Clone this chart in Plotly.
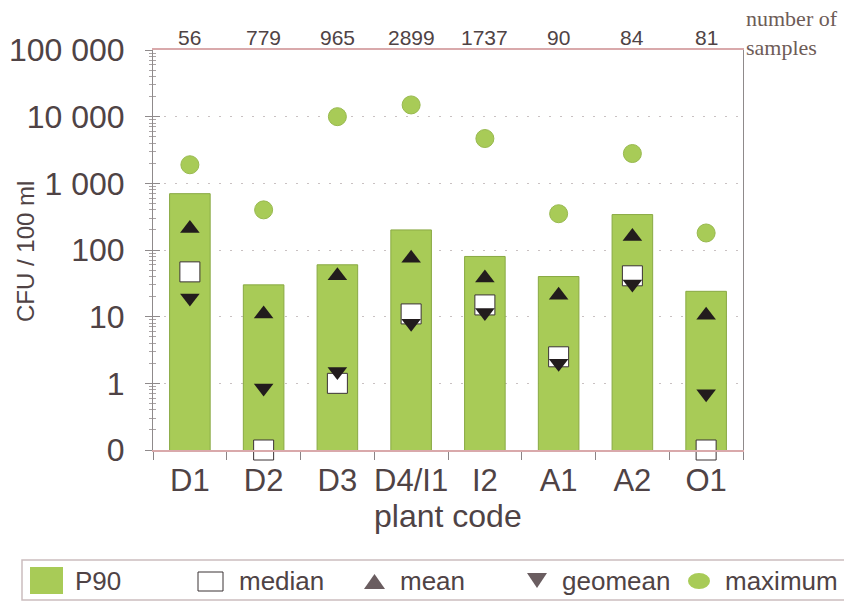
import plotly.graph_objects as go

# ---- data -------------------------------------------------------------
plants = ["D1", "D2", "D3", "D4/I1", "I2", "A1", "A2", "O1"]
n_samples = [56, 779, 965, 2899, 1737, 90, 84, 81]
p90 = [700, 30, 60, 200, 80, 40, 340, 24]
median = [47, 0, 1.0, 11, 15, 2.5, 41, 0]
mean = [210, 11, 41, 75, 38, 21, 160, 10.5]
geomean = [19, 0.85, 1.5, 8, 11.5, 2.0, 31, 0.7]
maximum = [1900, 400, 10000, 15000, 4700, 350, 2800, 180]

# zero counts sit on the axis floor of the log scale (labelled "0")
AXIS_FLOOR = 0.1
median_plot = [v if v > 0 else AXIS_FLOOR for v in median]

# ---- styling ----------------------------------------------------------
W, H = 844, 602
L, R, T, B = 153, 101, 50, 152
PW, PH = W - L - R, H - T - B
FONT = "Liberation Sans, Arial, Helvetica, sans-serif"
SERIF = "Liberation Serif, Times New Roman, serif"
TEXT = "#4f4345"
GREEN = "#a8cb57"
GREEN_EDGE = "#89a943"
DARK = "#221c1d"
GRID = "#c9c1c2"
PINK = "#d9a9ab"


def px_x(x):
    return (x - L) / PW


def px_y(y):
    return (T + PH - y) / PH


fig = go.Figure()

fig.add_trace(go.Bar(
    x=plants, y=p90, name="P90", width=0.55,
    marker=dict(color=GREEN, line=dict(color=GREEN_EDGE, width=1)),
    showlegend=False,
))
fig.add_trace(go.Scatter(
    x=plants, y=median_plot, name="median", mode="markers", cliponaxis=False,
    marker=dict(symbol="square", size=20, color="white",
                line=dict(color="#3a3234", width=1)),
    showlegend=False,
))
fig.add_trace(go.Scatter(
    x=plants, y=geomean, name="geomean", mode="markers", cliponaxis=False,
    marker=dict(symbol="triangle-down", size=17, color=DARK, line=dict(width=0)),
    showlegend=False,
))
fig.add_trace(go.Scatter(
    x=plants, y=mean, name="mean", mode="markers", cliponaxis=False,
    marker=dict(symbol="triangle-up", size=17, color=DARK, line=dict(width=0)),
    showlegend=False,
))
fig.add_trace(go.Scatter(
    x=plants, y=maximum, name="maximum", mode="markers", cliponaxis=False,
    marker=dict(symbol="circle", size=18, color=GREEN,
                line=dict(color="#98b94e", width=1)),
    showlegend=False,
))
# companion axis carrying the inward half of the y ticks
fig.add_trace(go.Scatter(x=[], y=[], yaxis="y2", showlegend=False,
                         hoverinfo="skip"))

# sample counts above each plant
for p, n in zip(plants, n_samples):
    fig.add_annotation(x=p, xref="x", y=px_y(37), yref="paper",
                       text=str(n), showarrow=False,
                       font=dict(family=FONT, size=21, color=TEXT),
                       xanchor="center", yanchor="middle")

fig.add_annotation(x=px_x(744), xref="paper", y=px_y(33), yref="paper",
                   text="number of<br>samples", showarrow=False, align="left",
                   font=dict(family=SERIF, size=22, color="#6e5c57"),
                   xanchor="left", yanchor="middle")

# axis titles
fig.add_annotation(x=px_x(25), xref="paper", y=px_y(252), yref="paper",
                   text="CFU / 100 ml", textangle=-90, showarrow=False,
                   font=dict(family=FONT, size=24, color=TEXT),
                   xanchor="center", yanchor="middle")
fig.add_annotation(x=0.5, xref="paper", y=px_y(516), yref="paper",
                   text="plant code", showarrow=False,
                   font=dict(family=FONT, size=32, color=TEXT),
                   xanchor="center", yanchor="middle")

# ---- legend box -------------------------------------------------------
shapes = []
shapes.append(dict(type="rect", xref="paper", yref="paper",
                   x0=px_x(22), x1=px_x(852), y0=px_y(600), y1=px_y(560),
                   line=dict(color="#cbbdbf", width=1.5), fillcolor="white"))
shapes.append(dict(type="rect", xref="paper", yref="paper",
                   x0=px_x(30), x1=px_x(63), y0=px_y(594), y1=px_y(567),
                   line=dict(width=0), fillcolor=GREEN))
shapes.append(dict(type="rect", xref="paper", yref="paper",
                   x0=px_x(198), x1=px_x(223), y0=px_y(591), y1=px_y(572),
                   line=dict(color="#3a3234", width=1), fillcolor="white"))


def tri(x0, x1, ytop, ybot, up=True):
    xm = (x0 + x1) / 2
    if up:
        pts = [(x0, ybot), (x1, ybot), (xm, ytop)]
    else:
        pts = [(x0, ytop), (x1, ytop), (xm, ybot)]
    d = "M " + " L ".join(f"{px_x(a):.5f},{px_y(b):.5f}" for a, b in pts) + " Z"
    return dict(type="path", xref="paper", yref="paper", path=d,
                fillcolor="#6a5d60", line=dict(width=0))


shapes.append(tri(364, 385, 574, 589, up=True))
shapes.append(tri(527, 547, 573, 588, up=False))
shapes.append(dict(type="circle", xref="paper", yref="paper",
                   x0=px_x(688), x1=px_x(710), y0=px_y(589), y1=px_y(573),
                   line=dict(width=0), fillcolor=GREEN))

legend_items = [("P90", 73), ("median", 237), ("mean", 398),
                ("geomean", 560), ("maximum", 723)]
for label, xpos in legend_items:
    fig.add_annotation(x=px_x(xpos), xref="paper", y=px_y(581), yref="paper",
                       text=label, showarrow=False,
                       font=dict(family=FONT, size=26, color=TEXT),
                       xanchor="left", yanchor="middle")

fig.update_layout(
    width=W, height=H,
    margin=dict(l=L, r=R, t=T, b=B, pad=0),
    paper_bgcolor="white", plot_bgcolor="white",
    separators=". ",
    shapes=shapes,
    bargap=0.45,
    xaxis=dict(
        type="category", categoryorder="array", categoryarray=plants,
        range=[-0.5, len(plants) - 0.5], automargin=False,
        showline=True, linecolor=PINK, linewidth=1.5, mirror=True,
        ticks="outside", ticklen=8, tickcolor="#8a8486", tickson="boundaries",
        tickfont=dict(family=FONT, size=31, color=TEXT), tickangle=0,
        ticklabelstandoff=2, showgrid=False,
    ),
    yaxis=dict(
        type="log", range=[-1, 5], automargin=False,
        tickmode="linear", tick0=0, dtick=1, tickformat=",.0f",
        showline=True, linecolor="#8f8a8b", linewidth=1, mirror=True,
        ticks="outside", ticklen=7, tickcolor="#8f8a8b",
        minor=dict(dtick="D1", ticks="outside", ticklen=3,
                   tickcolor="#a9a3a4", showgrid=False),
        tickfont=dict(family=FONT, size=32, color=TEXT),
        ticklabelstandoff=14,
        showgrid=True, gridcolor=GRID, gridwidth=1, griddash="2px,9px",
        zeroline=False,
    ),
    yaxis2=dict(
        type="log", range=[-1, 5], overlaying="y", side="left",
        tickmode="linear", tick0=0, dtick=1,
        ticks="inside", ticklen=7, tickcolor="#8f8a8b",
        minor=dict(dtick="D1", ticks="inside", ticklen=3,
                   tickcolor="#a9a3a4", showgrid=False),
        showticklabels=False, showgrid=False, showline=False,
        zeroline=False, automargin=False,
    ),
)

fig.write_html("out.html")
